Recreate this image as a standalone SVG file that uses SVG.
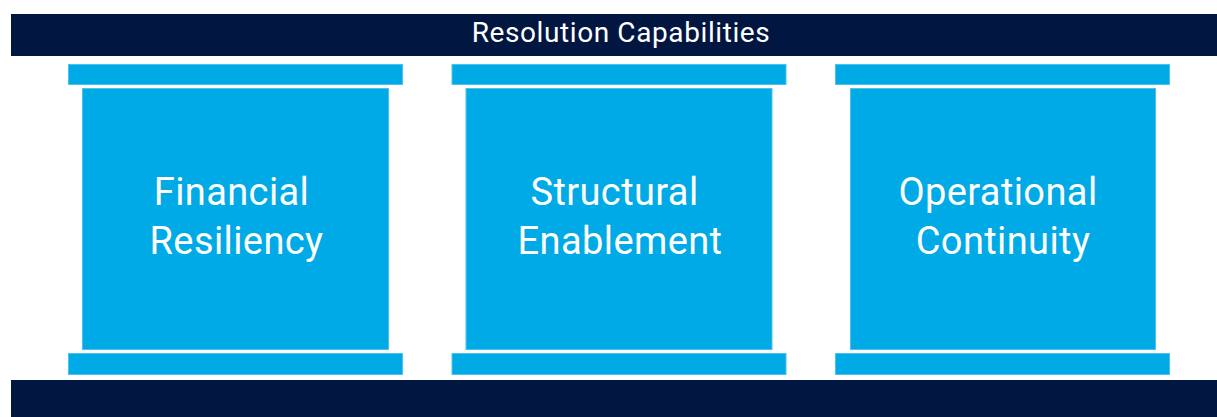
<svg xmlns="http://www.w3.org/2000/svg" width="1217" height="417" viewBox="0 0 1217 417">
<style>
.bar{fill:#011641}
.cap{fill:#00aae7;stroke:#4cc3ef;stroke-width:1}
.body{fill:#00aae7;stroke:#4cc3ef;stroke-width:1}
.lbl{font-family:Roboto,"Liberation Sans",sans-serif;fill:#ffffff;text-anchor:middle}
.pt{font-size:38px;letter-spacing:0.4px}
.tt{font-size:28px;letter-spacing:0.6px}
</style>
<rect width="1217" height="417" fill="#ffffff"/>
<g id="top-bar">
<rect class="bar" x="11" y="14" width="1206" height="42"/>
<text class="lbl tt" x="621" y="41.5">Resolution Capabilities</text>
</g>
<g id="bottom-bar">
<rect class="bar" x="11" y="380" width="1206" height="37"/>
</g>
<g id="pillar-financial">
<rect class="cap" x="68.5" y="64.5" width="334" height="20"/>
<rect class="body" x="82.5" y="88.5" width="306" height="261"/>
<rect class="cap" x="68.5" y="353.5" width="334" height="21"/>
<text class="lbl pt" x="231.5" y="205">Financial</text>
<text class="lbl pt" x="236.5" y="254">Resiliency</text>
</g>
<g id="pillar-structural">
<rect class="cap" x="452" y="64.5" width="334" height="20"/>
<rect class="body" x="466" y="88.5" width="306" height="261"/>
<rect class="cap" x="452" y="353.5" width="334" height="21"/>
<text class="lbl pt" x="614.5" y="205">Structural</text>
<text class="lbl pt" x="620" y="254">Enablement</text>
</g>
<g id="pillar-operational">
<rect class="cap" x="835.5" y="64.5" width="334" height="20"/>
<rect class="body" x="850.5" y="88.5" width="305" height="261"/>
<rect class="cap" x="835.5" y="353.5" width="334" height="21"/>
<text class="lbl pt" x="998" y="205">Operational</text>
<text class="lbl pt" x="1003" y="254">Continuity</text>
</g>
<g id="connectors"></g>
</svg>
